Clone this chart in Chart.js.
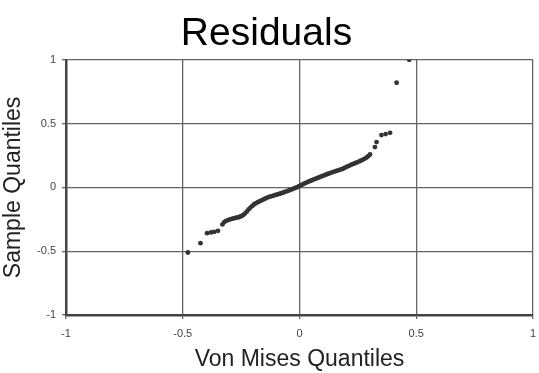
<!DOCTYPE html>
<html>
<head>
<meta charset="utf-8">
<script src="https://cdn.jsdelivr.net/npm/chart.js@4"></script>
<style>
  body { margin: 0; background: #fff; }
  #wrap { width: 539px; height: 373px; }
</style>
</head>
<body>
<div id="wrap"><canvas id="qq_chart" width="539" height="373"></canvas></div>
<script>
// theoretical quantiles (x) and sample quantiles (y)
const vonMisesQ = [
  -0.478, -0.424, -0.396, -0.379, -0.365, -0.349,
  -0.330, -0.322, -0.314, -0.306, -0.298, -0.290, -0.282, -0.274, -0.266,
  -0.258, -0.250, -0.242, -0.234, -0.226, -0.218, -0.210, -0.202, -0.194,
  -0.186, -0.178, -0.170, -0.162, -0.154, -0.146, -0.138, -0.130, -0.122,
  -0.114, -0.106, -0.098, -0.090, -0.082, -0.074, -0.066, -0.058, -0.050,
  -0.042, -0.034, -0.026, -0.018, -0.010, -0.002, 0.006, 0.014, 0.022,
  0.030, 0.038, 0.046, 0.054, 0.062, 0.070, 0.078, 0.086, 0.094,
  0.102, 0.110, 0.118, 0.126, 0.134, 0.142, 0.150, 0.158, 0.166,
  0.174, 0.182, 0.190, 0.198, 0.206, 0.214, 0.222, 0.230, 0.238,
  0.246, 0.254, 0.262, 0.270, 0.278, 0.286, 0.294, 0.302,
  0.323, 0.330, 0.351, 0.369, 0.388, 0.416, 0.470,
];
const sampleQ = [
  -0.510, -0.437, -0.359, -0.353, -0.348, -0.340,
  -0.290, -0.272, -0.262, -0.256, -0.251, -0.246, -0.243, -0.239, -0.236,
  -0.232, -0.226, -0.218, -0.205, -0.190, -0.173, -0.158, -0.145, -0.132,
  -0.123, -0.116, -0.108, -0.101, -0.094, -0.087, -0.080, -0.075, -0.070,
  -0.066, -0.061, -0.057, -0.052, -0.048, -0.043, -0.038, -0.033, -0.028,
  -0.022, -0.016, -0.010, -0.004, 0.002, 0.010, 0.017, 0.024, 0.031,
  0.038, 0.045, 0.051, 0.057, 0.063, 0.068, 0.074, 0.080, 0.086,
  0.092, 0.098, 0.104, 0.109, 0.114, 0.119, 0.124, 0.129, 0.134,
  0.139, 0.144, 0.150, 0.157, 0.164, 0.171, 0.178, 0.184, 0.190,
  0.196, 0.202, 0.209, 0.216, 0.224, 0.233, 0.244, 0.258,
  0.316, 0.355, 0.410, 0.418, 0.428, 0.820, 1.000,
];
const tickVals = [-1, -0.5, 0, 0.5, 1];

const points = vonMisesQ.map((x, i) => ({ x: x, y: sampleQ[i] }));
const FONT = "'Liberation Sans', Arial, sans-serif";

const qq_chart = new Chart(document.getElementById("qq_chart"), {
  type: "scatter",
  data: {
    datasets: [
      {
        data: points,
        pointRadius: 2.4,
        pointBackgroundColor: "#333",
        pointBorderWidth: 0,
      },
    ],
  },
  options: {
    responsive: false,
    animation: false,
    layout: { padding: { left: 0, right: 6, top: 0, bottom: 0 } },
    plugins: {
      legend: { display: false },
      tooltip: { enabled: false },
      title: {
        display: true,
        text: "Residuals",
        color: "#000",
        font: { family: FONT, size: 39, weight: "normal", lineHeight: 1.2 },
        padding: { top: 11, bottom: 2 },
      },
    },
    scales: {
      x: {
        type: "linear",
        min: -1,
        max: 1,
        afterBuildTicks: (s) => { s.ticks = tickVals.map((v) => ({ value: v })); },
        afterFit: (s) => {
          s.height = 58;
          s.paddingRight = 4; // label "1" only needs a few px
        },
        ticks: {
          color: "#444",
          font: { family: FONT, size: 11 },
          padding: 8,
          maxRotation: 0,
          callback: (v) => String(v),
        },
        grid: { color: "#666", lineWidth: 1.3, tickLength: 4 },
        border: { color: "#444", width: 2.5 },
        title: {
          display: true,
          text: "Von Mises Quantiles",
          color: "#222",
          font: { family: FONT, size: 23 },
          padding: { top: 0, bottom: 0 },
        },
      },
      y: {
        type: "linear",
        min: -1,
        max: 1,
        afterBuildTicks: (s) => { s.ticks = tickVals.map((v) => ({ value: v })); },
        afterFit: (s) => { s.width = 66; },
        ticks: {
          color: "#444",
          font: { family: FONT, size: 11 },
          padding: 6,
          callback: (v) => String(v),
        },
        grid: { color: "#666", lineWidth: 1.3, tickLength: 4 },
        border: { color: "#444", width: 2.5 },
        title: {
          display: true,
          text: "Sample Quantiles",
          color: "#222",
          font: { family: FONT, size: 23 },
          padding: { top: 0, bottom: 0 },
        },
      },
    },
  },
});
</script>
</body>
</html>
